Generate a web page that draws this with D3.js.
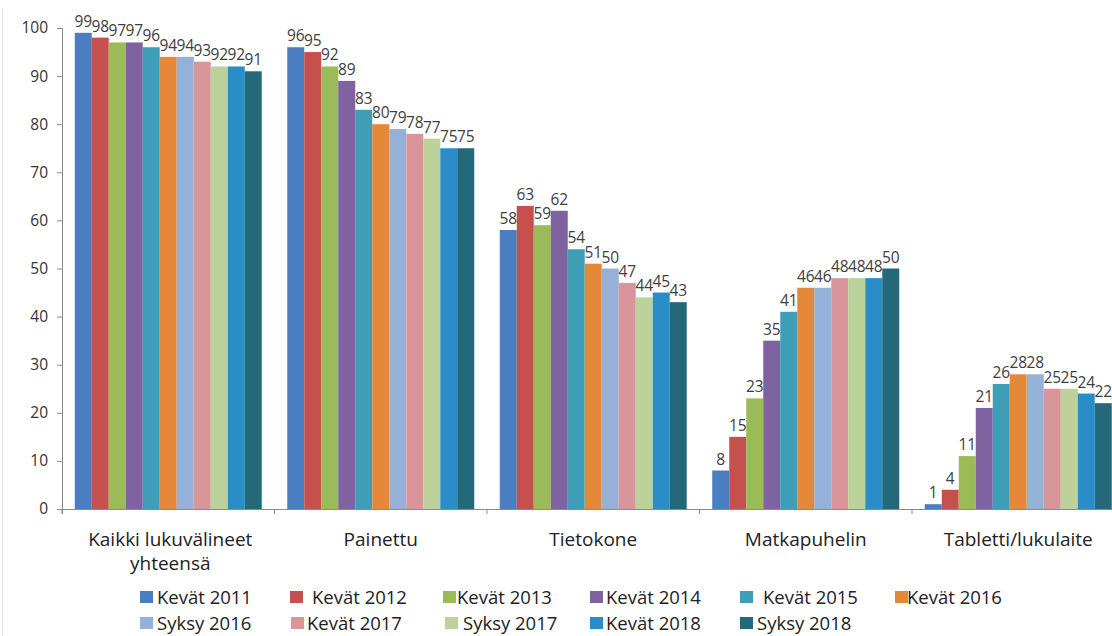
<!DOCTYPE html>
<html>
<head>
<meta charset="utf-8">
<script src="https://cdn.jsdelivr.net/npm/d3@7"></script>
<style>
  html, body { margin: 0; padding: 0; background: #fff; }
  svg { display: block; font-family: "Open Sans", Lato, sans-serif; }
</style>
</head>
<body>
<svg id="chart" width="1112" height="636"></svg>
<script>
// Reading devices used, share of respondents (%) per survey round
const categories = ["Kaikki lukuvälineet yhteensä", "Painettu", "Tietokone", "Matkapuhelin", "Tabletti/lukulaite"];
const series = ["Kevät 2011", "Kevät 2012", "Kevät 2013", "Kevät 2014", "Kevät 2015", "Kevät 2016",
                "Syksy 2016", "Kevät 2017", "Syksy 2017", "Kevät 2018", "Syksy 2018"];
const kaikki       = [99, 98, 97, 97, 96, 94, 94, 93, 92, 92, 91];
const painettu     = [96, 95, 92, 89, 83, 80, 79, 78, 77, 75, 75];
const tietokone    = [58, 63, 59, 62, 54, 51, 50, 47, 44, 45, 43];
const matkapuhelin = [8, 15, 23, 35, 41, 46, 46, 48, 48, 48, 50];
const tabletti     = [1, 4, 11, 21, 26, 28, 28, 25, 25, 24, 22];
const yTicks = [0, 10, 20, 30, 40, 50, 60, 70, 80, 90, 100];
const colors = ["#4a7ec0", "#c6504d", "#9bbb59", "#7f63a1", "#3f9eb7", "#e6883a",
                "#95b1d8", "#d9969a", "#bcd29a", "#2a8dc8", "#23697a"];

const values = [kaikki, painettu, tietokone, matkapuhelin, tabletti];
const rows = categories.map((c, i) => ({ cat: c, vals: values[i] }));

const svg = d3.select("#chart");
const plotLeft = 62, plotTop = 28, plotBottom = 509, catW = 212.5;

const x0 = d3.scaleBand().domain(categories).range([plotLeft, plotLeft + catW * categories.length]).padding(0);
const x1 = d3.scaleBand().domain(series).range([0, catW]).paddingInner(0).paddingOuter(0.75);
const y = d3.scaleLinear().domain([0, 100]).range([plotBottom, plotTop]);

// faint chart border on the left
svg.append("line").attr("x1", 2.5).attr("x2", 2.5).attr("y1", 8).attr("y2", 636)
  .attr("stroke", "#e4e4e4").attr("stroke-width", 1);

// bars
const groups = svg.append("g").selectAll("g").data(rows).join("g")
  .attr("transform", d => `translate(${x0(d.cat)},0)`);

groups.selectAll("rect").data(d => d.vals.map((v, i) => ({ s: series[i], v, i })))
  .join("rect")
  .attr("x", d => x1(d.s))
  .attr("width", x1.bandwidth())
  .attr("y", d => y(d.v))
  .attr("height", d => y(0) - y(d.v))
  .attr("fill", d => colors[d.i]);

// value labels
groups.selectAll("text").data(d => d.vals.map((v, i) => ({ s: series[i], v, i })))
  .join("text")
  .attr("x", d => x1(d.s) + x1.bandwidth() / 2)
  .attr("y", d => y(d.v) - 6)
  .attr("text-anchor", "middle")
  .attr("font-size", 15.5)
  .attr("fill", "#404040")
  .text(d => d.v);

// y axis
const yAxis = d3.axisLeft(y).tickValues(yTicks).tickSize(5).tickPadding(9);
const gy = svg.append("g").attr("transform", `translate(${plotLeft},0)`).call(yAxis);
gy.select(".domain").attr("stroke", "#8a8a8a");
gy.selectAll(".tick line").attr("stroke", "#8a8a8a");
gy.selectAll(".tick text").attr("font-size", 15.5).attr("fill", "#333").attr("font-family", "'Open Sans', sans-serif");

// x axis
const xAxis = d3.axisBottom(x0).tickSize(5).tickFormat("");
const gx = svg.append("g").attr("transform", `translate(0,${plotBottom})`).call(xAxis);
gx.select(".domain").attr("stroke", "#8a8a8a");
gx.selectAll(".tick line").attr("stroke", "#8a8a8a")
  .attr("transform", `translate(${-catW / 2},0)`);

// category labels (first one wraps over two lines)
const catLabels = svg.append("g").attr("font-size", 19).attr("fill", "#222").attr("text-anchor", "middle");
rows.forEach((r, i) => {
  const cx = x0(r.cat) + catW / 2;
  if (i === 0) {
    catLabels.append("text").attr("x", cx + 2).attr("y", 546).text("Kaikki lukuvälineet");
    catLabels.append("text").attr("x", cx + 2).attr("y", 570).text("yhteensä");
  } else {
    catLabels.append("text").attr("x", cx).attr("y", 546).text(r.cat);
  }
});

// legend
const legendPos = [
  [140, 157, 604], [290, 312, 604], [443, 457, 604], [590, 606, 604], [740, 763, 604], [895, 907, 604],
  [140, 157, 630], [291, 307, 630], [445, 463, 630], [590, 606, 630], [740, 757, 630]
];
const legend = svg.append("g").attr("font-size", 18.5).attr("fill", "#222");
series.forEach((s, i) => {
  const [sx, tx, ty] = legendPos[i];
  legend.append("rect").attr("x", sx).attr("y", ty - 13).attr("width", 13).attr("height", 12).attr("fill", colors[i]);
  legend.append("text").attr("x", tx).attr("y", ty).text(s);
});
</script>
</body>
</html>
